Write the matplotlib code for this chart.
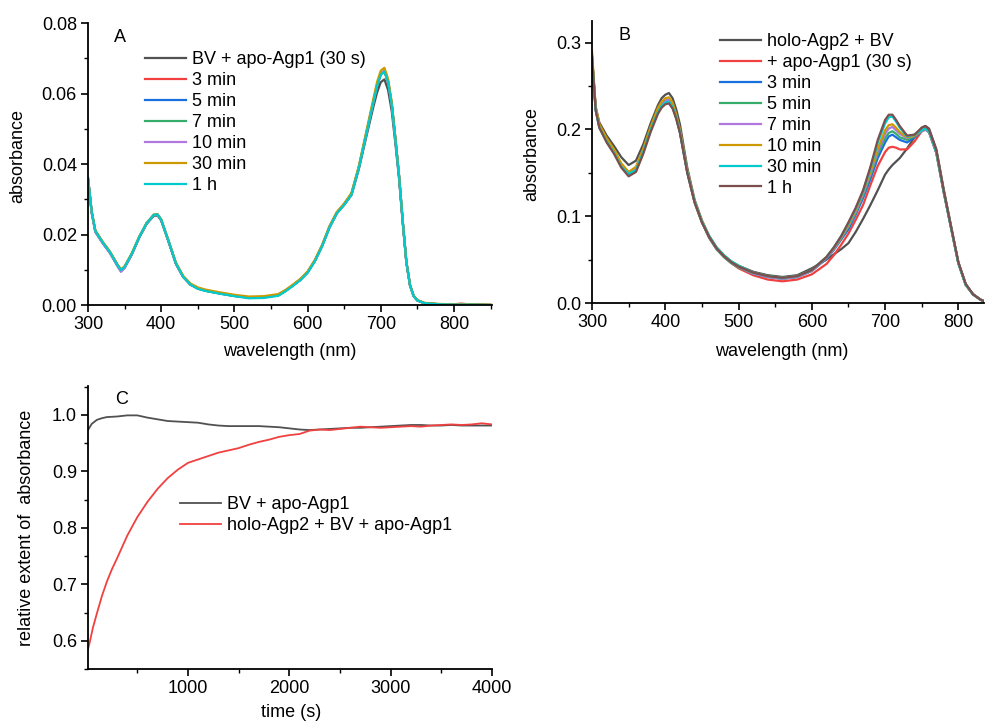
import matplotlib
matplotlib.use("Agg")
import matplotlib.pyplot as plt
from matplotlib.ticker import MultipleLocator, FormatStrFormatter

plt.rcParams['font.family'] = ['Liberation Sans', 'DejaVu Sans']
FS = 13

# Origin-like palette
cols = ['#515151', '#F14040', '#1A6FDF', '#37AD6B', '#B177DE', '#CC9900', '#00CBCC', '#7D4E4E']

# ---------------- panel A data ----------------
wlA = [300, 305, 310, 320, 330, 340, 345, 350, 360, 370,
       380, 390, 395, 400, 410, 420, 430, 440, 450, 460,
       480, 500, 520, 540, 560, 570, 580, 590, 600, 610,
       620, 630, 640, 650, 660, 670, 680, 690, 695, 700,
       705, 710, 715, 720, 725, 730, 735, 740, 745, 750,
       760, 780, 800, 810, 820, 850]
labelsA = ['BV + apo-Agp1 (30 s)', '3 min', '5 min', '7 min', '10 min', '30 min', '1 h']
A_30s = [0.0360, 0.0265, 0.0210, 0.0178, 0.0150, 0.0115, 0.0100, 0.0108, 0.0145, 0.0192,
         0.0230, 0.0253, 0.0254, 0.0240, 0.0180, 0.0118, 0.0080, 0.0058, 0.0047, 0.0041,
         0.0033, 0.0026, 0.0021, 0.0022, 0.0028, 0.0040, 0.0055, 0.0071, 0.0092, 0.0125,
         0.0168, 0.0220, 0.0260, 0.0284, 0.0312, 0.0385, 0.0475, 0.0563, 0.0603, 0.0632,
         0.0640, 0.0610, 0.0550, 0.0458, 0.0358, 0.0234, 0.0120, 0.0055, 0.0025, 0.0013,
         0.0005, 0.0002, 0.0001, 0.0002, 0.0001, 0.0000]
A_3m = [0.0358, 0.0264, 0.0209, 0.0177, 0.0149, 0.0114, 0.0098, 0.0107, 0.0145, 0.0192,
        0.0231, 0.0255, 0.0256, 0.0241, 0.0181, 0.0118, 0.0080, 0.0058, 0.0047, 0.0041,
        0.0033, 0.0026, 0.0021, 0.0022, 0.0028, 0.0041, 0.0056, 0.0072, 0.0093, 0.0126,
        0.0169, 0.0222, 0.0262, 0.0286, 0.0315, 0.0390, 0.0483, 0.0577, 0.0622, 0.0654,
        0.0662, 0.0632, 0.0568, 0.0470, 0.0366, 0.0238, 0.0122, 0.0056, 0.0026, 0.0013,
        0.0005, 0.0002, 0.0002, 0.0004, 0.0002, 0.0000]
A_5m = [0.0358, 0.0264, 0.0209, 0.0177, 0.0149, 0.0113, 0.0097, 0.0106, 0.0145, 0.0192,
        0.0231, 0.0255, 0.0256, 0.0241, 0.0181, 0.0118, 0.0080, 0.0058, 0.0047, 0.0041,
        0.0033, 0.0026, 0.0021, 0.0022, 0.0028, 0.0041, 0.0056, 0.0072, 0.0093, 0.0126,
        0.0169, 0.0222, 0.0262, 0.0286, 0.0315, 0.0390, 0.0484, 0.0578, 0.0623, 0.0656,
        0.0664, 0.0634, 0.0570, 0.0471, 0.0366, 0.0238, 0.0122, 0.0056, 0.0025, 0.0013,
        0.0005, 0.0002, 0.0001, 0.0002, 0.0001, 0.0000]
A_7m = [0.0357, 0.0263, 0.0208, 0.0176, 0.0148, 0.0112, 0.0096, 0.0106, 0.0145, 0.0192,
        0.0231, 0.0255, 0.0256, 0.0241, 0.0181, 0.0118, 0.0080, 0.0058, 0.0047, 0.0041,
        0.0033, 0.0026, 0.0021, 0.0022, 0.0028, 0.0041, 0.0056, 0.0072, 0.0093, 0.0126,
        0.0169, 0.0222, 0.0262, 0.0286, 0.0315, 0.0390, 0.0484, 0.0578, 0.0623, 0.0656,
        0.0664, 0.0634, 0.0570, 0.0471, 0.0366, 0.0238, 0.0122, 0.0056, 0.0025, 0.0013,
        0.0005, 0.0002, 0.0001, 0.0002, 0.0001, 0.0000]
A_10m = [0.0356, 0.0262, 0.0207, 0.0175, 0.0147, 0.0111, 0.0094, 0.0105, 0.0144, 0.0192,
         0.0231, 0.0255, 0.0256, 0.0241, 0.0181, 0.0118, 0.0080, 0.0058, 0.0047, 0.0041,
         0.0033, 0.0026, 0.0021, 0.0022, 0.0028, 0.0041, 0.0056, 0.0072, 0.0093, 0.0126,
         0.0169, 0.0222, 0.0262, 0.0286, 0.0315, 0.0390, 0.0484, 0.0578, 0.0624, 0.0657,
         0.0665, 0.0635, 0.0571, 0.0471, 0.0366, 0.0238, 0.0122, 0.0056, 0.0025, 0.0013,
         0.0005, 0.0002, 0.0001, 0.0002, 0.0001, 0.0000]
A_30m = [0.0360, 0.0266, 0.0212, 0.0180, 0.0152, 0.0116, 0.0101, 0.0110, 0.0148, 0.0194,
         0.0233, 0.0257, 0.0258, 0.0243, 0.0183, 0.0121, 0.0083, 0.0061, 0.0050, 0.0044,
         0.0036, 0.0029, 0.0024, 0.0025, 0.0031, 0.0043, 0.0058, 0.0074, 0.0095, 0.0128,
         0.0171, 0.0224, 0.0264, 0.0288, 0.0318, 0.0394, 0.0490, 0.0586, 0.0633, 0.0665,
         0.0673, 0.0642, 0.0576, 0.0475, 0.0369, 0.0240, 0.0123, 0.0057, 0.0026, 0.0014,
         0.0006, 0.0003, 0.0002, 0.0002, 0.0002, 0.0001]
A_1h = [0.0362, 0.0265, 0.0210, 0.0178, 0.0150, 0.0114, 0.0099, 0.0108, 0.0146, 0.0193,
        0.0232, 0.0256, 0.0257, 0.0242, 0.0182, 0.0119, 0.0080, 0.0058, 0.0046, 0.0040,
        0.0032, 0.0025, 0.0019, 0.0020, 0.0026, 0.0039, 0.0054, 0.0070, 0.0091, 0.0124,
        0.0167, 0.0220, 0.0260, 0.0284, 0.0313, 0.0388, 0.0482, 0.0576, 0.0621, 0.0653,
        0.0662, 0.0633, 0.0569, 0.0470, 0.0366, 0.0238, 0.0122, 0.0056, 0.0025, 0.0013,
        0.0005, 0.0002, 0.0001, 0.0001, 0.0001, 0.0000]
seriesA = [A_30s, A_3m, A_5m, A_7m, A_10m, A_30m, A_1h]

# ---------------- panel B data ----------------
wlB = [300, 305, 310, 320, 330, 340, 350, 360, 370, 380,
       390, 395, 400, 405, 410, 415, 420, 430, 440, 450,
       460, 470, 480, 490, 500, 520, 540, 560, 580, 600,
       620, 630, 640, 650, 660, 670, 680, 690, 700, 705,
       710, 715, 720, 730, 740, 750, 755, 760, 770, 780,
       790, 800, 810, 820, 830, 835]
labelsB = ['holo-Agp2 + BV', '+ apo-Agp1 (30 s)', '3 min', '5 min', '7 min', '10 min', '30 min', '1 h']
B_holo = [0.280, 0.226, 0.208, 0.193, 0.181, 0.168, 0.159, 0.164, 0.183, 0.207,
          0.228, 0.236, 0.240, 0.242, 0.236, 0.223, 0.206, 0.156, 0.119, 0.095,
          0.077, 0.064, 0.055, 0.048, 0.043, 0.036, 0.032, 0.030, 0.032, 0.040,
          0.050, 0.056, 0.062, 0.069, 0.082, 0.097, 0.113, 0.130, 0.148, 0.154,
          0.159, 0.163, 0.167, 0.178, 0.191, 0.202, 0.204, 0.201, 0.177, 0.131,
          0.089, 0.047, 0.022, 0.010, 0.004, 0.002]
B_30s = [0.284, 0.223, 0.203, 0.187, 0.174, 0.158, 0.148, 0.153, 0.174, 0.199,
         0.220, 0.227, 0.231, 0.232, 0.226, 0.213, 0.197, 0.151, 0.116, 0.093,
         0.075, 0.062, 0.053, 0.046, 0.040, 0.032, 0.027, 0.025, 0.027, 0.033,
         0.045, 0.055, 0.067, 0.080, 0.096, 0.113, 0.136, 0.158, 0.174, 0.179,
         0.180, 0.179, 0.177, 0.177, 0.186, 0.198, 0.200, 0.197, 0.173, 0.128,
         0.087, 0.046, 0.021, 0.010, 0.004, 0.002]
B_3m = [0.285, 0.224, 0.204, 0.188, 0.175, 0.159, 0.150, 0.155, 0.176, 0.201,
        0.222, 0.229, 0.233, 0.234, 0.228, 0.215, 0.198, 0.152, 0.117, 0.094,
        0.076, 0.063, 0.054, 0.047, 0.042, 0.034, 0.030, 0.028, 0.030, 0.037,
        0.051, 0.061, 0.073, 0.085, 0.102, 0.121, 0.143, 0.167, 0.185, 0.192,
        0.194, 0.191, 0.188, 0.185, 0.191, 0.198, 0.200, 0.197, 0.173, 0.128,
        0.087, 0.046, 0.021, 0.010, 0.004, 0.002]
B_5m = [0.284, 0.223, 0.203, 0.187, 0.174, 0.158, 0.149, 0.154, 0.175, 0.200,
        0.221, 0.228, 0.232, 0.233, 0.227, 0.214, 0.197, 0.151, 0.116, 0.093,
        0.075, 0.062, 0.053, 0.046, 0.041, 0.034, 0.030, 0.028, 0.030, 0.037,
        0.052, 0.062, 0.074, 0.088, 0.104, 0.124, 0.147, 0.172, 0.190, 0.196,
        0.198, 0.195, 0.191, 0.188, 0.192, 0.198, 0.200, 0.197, 0.173, 0.128,
        0.087, 0.046, 0.021, 0.010, 0.004, 0.002]
B_7m = [0.286, 0.224, 0.204, 0.188, 0.175, 0.159, 0.150, 0.155, 0.176, 0.201,
        0.222, 0.229, 0.233, 0.234, 0.228, 0.215, 0.198, 0.152, 0.117, 0.094,
        0.076, 0.063, 0.054, 0.047, 0.042, 0.034, 0.030, 0.028, 0.030, 0.037,
        0.052, 0.062, 0.075, 0.089, 0.105, 0.126, 0.149, 0.175, 0.195, 0.201,
        0.203, 0.199, 0.195, 0.190, 0.193, 0.198, 0.200, 0.197, 0.173, 0.128,
        0.087, 0.046, 0.021, 0.010, 0.004, 0.002]
B_10m = [0.290, 0.226, 0.206, 0.190, 0.177, 0.161, 0.151, 0.157, 0.178, 0.203,
         0.225, 0.232, 0.236, 0.237, 0.231, 0.217, 0.200, 0.153, 0.118, 0.095,
         0.077, 0.064, 0.055, 0.048, 0.043, 0.035, 0.031, 0.029, 0.031, 0.038,
         0.053, 0.063, 0.076, 0.090, 0.107, 0.128, 0.151, 0.178, 0.199, 0.205,
         0.206, 0.202, 0.197, 0.191, 0.193, 0.199, 0.201, 0.198, 0.174, 0.129,
         0.087, 0.046, 0.021, 0.010, 0.004, 0.002]
B_30m = [0.280, 0.222, 0.202, 0.186, 0.173, 0.157, 0.149, 0.153, 0.174, 0.199,
         0.220, 0.227, 0.231, 0.232, 0.226, 0.213, 0.197, 0.151, 0.117, 0.094,
         0.077, 0.064, 0.055, 0.048, 0.043, 0.035, 0.031, 0.029, 0.031, 0.038,
         0.053, 0.064, 0.077, 0.092, 0.109, 0.129, 0.155, 0.185, 0.207, 0.214,
         0.215, 0.209, 0.202, 0.192, 0.194, 0.199, 0.201, 0.198, 0.174, 0.129,
         0.087, 0.046, 0.021, 0.010, 0.004, 0.002]
B_1h = [0.283, 0.222, 0.202, 0.185, 0.172, 0.156, 0.146, 0.151, 0.172, 0.197,
        0.218, 0.225, 0.229, 0.230, 0.224, 0.212, 0.196, 0.150, 0.116, 0.093,
        0.076, 0.063, 0.054, 0.047, 0.042, 0.035, 0.031, 0.029, 0.031, 0.038,
        0.053, 0.064, 0.077, 0.093, 0.110, 0.130, 0.157, 0.188, 0.211, 0.217,
        0.217, 0.211, 0.204, 0.193, 0.194, 0.202, 0.204, 0.200, 0.176, 0.130,
        0.088, 0.047, 0.022, 0.010, 0.004, 0.002]
seriesB = [B_holo, B_30s, B_3m, B_5m, B_7m, B_10m, B_30m, B_1h]

# ---------------- panel C data ----------------
t_bv = [13, 50, 100, 150, 200, 300, 400, 500, 600, 700, 800, 900, 1000, 1100, 1200,
        1300, 1400, 1500, 1600, 1700, 1800, 1900, 2000, 2100, 2200, 2300, 2400, 2500,
        2600, 2700, 2800, 2900, 3000, 3100, 3200, 3300, 3400, 3500, 3600, 3700, 3800,
        3900, 4000]
c_bv = [0.973, 0.984, 0.991, 0.994, 0.996, 0.997, 0.999, 0.999, 0.995, 0.992, 0.989,
        0.988, 0.987, 0.986, 0.983, 0.981, 0.980, 0.980, 0.980, 0.980, 0.979, 0.978,
        0.976, 0.974, 0.973, 0.974, 0.975, 0.976, 0.977, 0.977, 0.978, 0.979, 0.980,
        0.981, 0.982, 0.982, 0.981, 0.981, 0.982, 0.981, 0.981, 0.981, 0.981]
t_holo = [13, 30, 60, 100, 150, 200, 250, 300, 400, 500, 600, 700, 800, 900, 1000, 1100,
          1200, 1300, 1400, 1500, 1600, 1700, 1800, 1900, 2000, 2100, 2200, 2300, 2400,
          2500, 2600, 2700, 2800, 2900, 3000, 3100, 3200, 3300, 3400, 3500, 3600, 3700,
          3800, 3900, 4000]
c_holo = [0.585, 0.597, 0.622, 0.648, 0.679, 0.705, 0.727, 0.746, 0.786, 0.819, 0.846,
          0.869, 0.888, 0.903, 0.915, 0.921, 0.927, 0.933, 0.937, 0.941, 0.947, 0.952,
          0.956, 0.961, 0.964, 0.966, 0.972, 0.974, 0.973, 0.975, 0.977, 0.979, 0.978,
          0.977, 0.978, 0.979, 0.980, 0.979, 0.981, 0.982, 0.983, 0.982, 0.983, 0.985,
          0.983]
labelsC = ['BV + apo-Agp1', 'holo-Agp2 + BV + apo-Agp1']

W, H = 985, 723
fig = plt.figure(figsize=(W / 100, H / 100), dpi=100)


def box(l, t, r, b):
    return [l / W, 1 - b / H, (r - l) / W, (b - t) / H]


def style(ax):
    for s in ['top', 'right']:
        ax.spines[s].set_visible(False)
    for s in ['left', 'bottom']:
        ax.spines[s].set_linewidth(1.3)
    ax.tick_params(which='major', direction='out', length=5, width=1.2, labelsize=FS, pad=3)
    ax.tick_params(which='minor', direction='out', length=3, width=1.0)


legkw = dict(frameon=False, fontsize=FS, handlelength=2.27, handletextpad=0.33,
             labelspacing=0.22, borderpad=0, borderaxespad=0, loc='upper left')

# panel A
axA = fig.add_axes(box(88, 23, 492, 305))
for y, c, lab in zip(seriesA, cols, labelsA):
    axA.plot(wlA, y, color=c, lw=1.6, label=lab)
axA.set_xlim(300, 852)
axA.set_ylim(0, 0.08)
axA.xaxis.set_major_locator(MultipleLocator(100))
axA.xaxis.set_minor_locator(MultipleLocator(50))
axA.yaxis.set_major_locator(MultipleLocator(0.02))
axA.yaxis.set_minor_locator(MultipleLocator(0.01))
axA.yaxis.set_major_formatter(FormatStrFormatter('%.2f'))
style(axA)
axA.set_xlabel('wavelength (nm)', fontsize=FS)
axA.set_ylabel('absorbance', fontsize=FS)
axA.xaxis.set_label_coords(0.5, -0.135)
axA.yaxis.set_label_coords(-0.153, 0.53)
axA.legend(bbox_to_anchor=(145 / W, 1 - 51 / H), bbox_transform=fig.transFigure, **legkw)
fig.text(120 / W, 1 - 38 / H, 'A', fontsize=FS, ha='center', va='center')

# panel B
axB = fig.add_axes(box(592, 21, 984, 303))
for y, c, lab in zip(seriesB, cols, labelsB):
    axB.plot(wlB, y, color=c, lw=1.6, label=lab)
axB.set_xlim(300, 835)
axB.set_ylim(0, 0.325)
axB.xaxis.set_major_locator(MultipleLocator(100))
axB.xaxis.set_minor_locator(MultipleLocator(50))
axB.yaxis.set_major_locator(MultipleLocator(0.1))
axB.yaxis.set_minor_locator(MultipleLocator(0.05))
axB.yaxis.set_major_formatter(FormatStrFormatter('%.1f'))
style(axB)
axB.set_xlabel('wavelength (nm)', fontsize=FS)
axB.set_ylabel('absorbance', fontsize=FS)
axB.xaxis.set_label_coords(0.484, -0.142)
axB.yaxis.set_label_coords(-0.133, 0.53)
axB.legend(bbox_to_anchor=(720 / W, 1 - 33 / H), bbox_transform=fig.transFigure, **legkw)
fig.text(625 / W, 1 - 36 / H, 'B', fontsize=FS, ha='center', va='center')

# panel C
axC = fig.add_axes(box(88, 386, 492, 669))
axC.plot(t_bv, c_bv, color=cols[0], lw=1.3, label=labelsC[0])
axC.plot(t_holo, c_holo, color=cols[1], lw=1.3, label=labelsC[1])
axC.set_xlim(13, 4000)
axC.set_ylim(0.55, 1.051)
axC.set_xticks([1000, 2000, 3000, 4000])
axC.xaxis.set_minor_locator(MultipleLocator(500))
axC.yaxis.set_major_locator(MultipleLocator(0.1))
axC.yaxis.set_minor_locator(MultipleLocator(0.05))
axC.yaxis.set_major_formatter(FormatStrFormatter('%.1f'))
style(axC)
axC.set_xlabel('time (s)', fontsize=FS)
axC.set_ylabel('relative extent of  absorbance', fontsize=FS)
axC.xaxis.set_label_coords(0.502, -0.122)
axC.yaxis.set_label_coords(-0.131, 0.498)
axC.legend(bbox_to_anchor=(180 / W, 1 - 496 / H), bbox_transform=fig.transFigure, **legkw)
fig.text(122 / W, 1 - 399 / H, 'C', fontsize=FS, ha='center', va='center')

fig.savefig('out.png', dpi=100)
